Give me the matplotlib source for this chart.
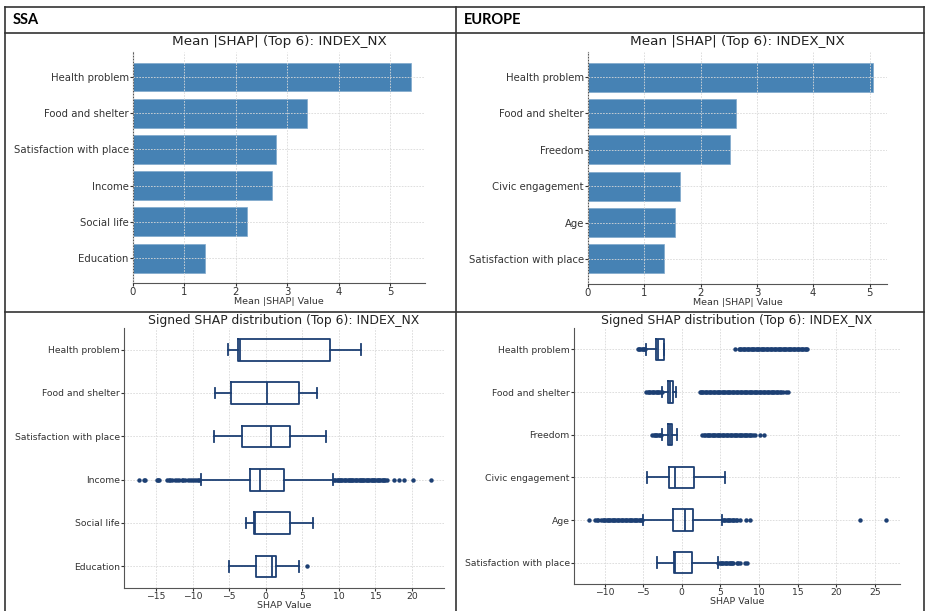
import matplotlib
matplotlib.use("Agg")
import matplotlib.pyplot as plt
from matplotlib.lines import Line2D

# ---- data ----
ssa_features = ["Health problem", "Food and shelter", "Satisfaction with place",
                "Income", "Social life", "Education"]
ssa_mean_shap = [5.41, 3.38, 2.78, 2.71, 2.22, 1.40]

eu_features = ["Health problem", "Food and shelter", "Freedom",
               "Civic engagement", "Age", "Satisfaction with place"]
eu_mean_shap = [5.06, 2.62, 2.53, 1.64, 1.55, 1.35]

# box stats: whisker low, q1, median, q3, whisker high
ssa_whislo = [-5.1, -7.0, -7.1, -8.9, -2.74, -5.07]
ssa_q1 = [-3.84, -4.7, -3.2, -2.15, -1.55, -1.37]
ssa_med = [-3.5, 0.23, 0.78, -0.78, -1.46, 0.87]
ssa_q3 = [8.8, 4.5, 3.33, 2.5, 3.38, 1.42]
ssa_whishi = [13.1, 7.0, 8.2, 9.26, 6.53, 4.57]
ssa_fliers = [
    [],
    [],
    [],
    [-17.4, -16.6, -16.5, -14.9, -14.7, -14.6, -13.5, -13.2, -13.1, -12.8, -12.4,
     -12.2, -11.9, -11.5, -11.3, -11.0, -10.6, -10.4, -10.1, -9.8, -9.5, -9.3, -9.1,
     9.35, 9.5, 9.7, 9.85, 10.0, 10.2, 10.35, 10.5, 10.7, 10.85, 11.0, 11.2, 11.35,
     11.5, 11.7, 11.85, 12.0, 12.2, 12.35, 12.5, 12.7, 12.85, 13.0, 13.2, 13.35, 13.5,
     13.7, 13.85, 14.0, 14.2, 14.35, 14.5, 14.7, 14.85, 15.0, 15.2, 15.35, 15.5, 15.7,
     15.85, 16.0, 16.2, 16.35, 16.55, 17.5, 18.3, 18.9, 20.1, 22.6],
    [],
    [5.6],
]

eu_whislo = [-4.67, -2.5, -2.55, -4.54, -5.0, -3.15]
eu_q1 = [-3.37, -1.78, -1.73, -1.69, -1.13, -1.04]
eu_med = [-3.05, -1.56, -1.5, -0.82, 0.47, -0.87]
eu_q3 = [-2.33, -1.13, -1.26, 1.6, 1.47, 1.3]
eu_whishi = [-2.33, -0.78, -0.61, 5.66, 5.27, 4.63]
eu_fliers = [
    [-5.66, -5.5, -5.35, -5.2, -5.05, -4.9, -4.8, 6.9, 7.4, 7.55, 7.7, 7.9, 8.05,
     8.2, 8.4, 8.55, 8.7, 8.9, 9.05, 9.2, 9.4, 9.55, 9.7, 9.9, 10.05, 10.2, 10.4,
     10.55, 10.7, 10.9, 11.05, 11.2, 11.4, 11.55, 11.7, 11.9, 12.05, 12.2, 12.4, 12.55,
     12.7, 12.9, 13.05, 13.2, 13.4, 13.55, 13.7, 13.9, 14.05, 14.2, 14.4, 14.55, 14.7,
     14.9, 15.05, 15.2, 15.4, 15.55, 15.7, 15.9, 16.05, 16.2],
    [-4.58, -4.4, -4.25, -4.1, -3.9, -3.75, -3.6, -3.4, -3.25, -3.1, -2.9, -2.75,
     -2.6, 2.33, 2.5, 2.65, 2.8, 3.0, 3.15, 3.3, 3.5, 3.65, 3.8, 4.0, 4.15, 4.3, 4.5,
     4.65, 4.8, 5.0, 5.15, 5.3, 5.5, 5.65, 5.8, 6.0, 6.15, 6.3, 6.5, 6.65, 6.8, 7.0,
     7.15, 7.3, 7.5, 7.65, 7.8, 8.0, 8.15, 8.3, 8.5, 8.65, 8.8, 9.0, 9.15, 9.3, 9.5,
     9.65, 9.8, 10.0, 10.15, 10.3, 10.5, 10.65, 10.8, 11.0, 11.15, 11.3, 11.5, 11.65,
     11.8, 12.0, 12.15, 12.3, 12.5, 12.7, 12.9, 13.1, 13.5, 13.8],
    [-3.8, -3.65, -3.5, -3.3, -3.15, -3.0, -2.8, -2.65, 2.68, 2.85, 3.0, 3.2, 3.35,
     3.5, 3.7, 3.85, 4.0, 4.2, 4.35, 4.5, 4.7, 4.85, 5.0, 5.2, 5.35, 5.5, 5.7, 5.85,
     6.0, 6.2, 6.35, 6.5, 6.7, 6.85, 7.0, 7.2, 7.35, 7.5, 7.7, 7.85, 8.0, 8.2, 8.35,
     8.5, 8.7, 8.85, 9.0, 9.2, 9.46, 10.1, 10.6],
    [],
    [-12.0, -11.3, -11.0, -10.8, -10.4, -10.25, -10.1, -9.9, -9.75, -9.6, -9.4, -9.25,
     -9.1, -8.9, -8.75, -8.6, -8.4, -8.25, -8.1, -7.9, -7.75, -7.6, -7.4, -7.25, -7.1,
     -6.9, -6.75, -6.6, -6.4, -6.25, -6.1, -5.9, -5.75, -5.6, -5.4, -5.25, -5.1,
     5.35, 5.5, 5.65, 5.8, 6.0, 6.15, 6.3, 6.5, 6.65, 6.8, 7.0, 7.1, 7.56, 8.38, 8.8,
     23.1, 26.4],
    [4.75, 4.9, 5.05, 5.2, 5.4, 5.55, 5.7, 5.9, 6.05, 6.2, 6.4, 6.55, 6.65, 7.1, 7.3,
     7.6, 8.2, 8.5],
]

BAR_COLOR = "#4682b4"
BOX_COLOR = "#1c3f73"
TEXT_COLOR = "#333333"
GRID_COLOR = "#d9d9d9"


def style_axes(ax, labelsize, below):
    ax.spines["top"].set_visible(False)
    ax.spines["right"].set_visible(False)
    ax.spines["left"].set_color("#555555")
    ax.spines["bottom"].set_color("#555555")
    ax.grid(True, color=GRID_COLOR, linestyle="--", linewidth=0.6, dashes=(2, 1.5))
    ax.set_axisbelow(below)
    ax.tick_params(labelsize=labelsize, colors=TEXT_COLOR, length=2, width=0.8, pad=1)
    for lab in ax.get_xticklabels() + ax.get_yticklabels():
        lab.set_color(TEXT_COLOR)


def bar_panel(ax, features, values, xmax):
    ax.barh(features, values, height=0.8, color=BAR_COLOR, edgecolor="#7fa8cc", linewidth=0.5)
    ax.invert_yaxis()
    ax.set_xlim(0, xmax)
    ax.set_title("Mean |SHAP| (Top 6): INDEX_NX", fontsize=9.7, color="#222222", pad=5)
    ax.set_xlabel("Mean |SHAP| Value", fontsize=6.8, color=TEXT_COLOR, labelpad=0)
    # grid shows faintly over the bars in the reference
    style_axes(ax, 7.3, False)


def box_panel(ax, features, wlo, q1, med, q3, whi, fliers, xlim):
    stats = []
    for i in range(len(features)):
        stats.append(dict(whislo=wlo[i], q1=q1[i], med=med[i], q3=q3[i],
                          whishi=whi[i], fliers=fliers[i], label=features[i]))
    lp = dict(color=BOX_COLOR, linewidth=1.3)
    ax.bxp(stats, positions=range(1, len(features) + 1), orientation="horizontal",
           widths=0.5, boxprops=lp, medianprops=lp, whiskerprops=lp, capprops=lp,
           flierprops=dict(marker="o", markersize=3.2, markerfacecolor=BOX_COLOR,
                           markeredgewidth=0, alpha=1.0, linestyle="none"))
    ax.set_ylim(6.5, 0.5)
    ax.set_xlim(*xlim)
    ax.set_title("Signed SHAP distribution (Top 6): INDEX_NX", fontsize=8.9,
                 color="#222222", pad=3)
    ax.set_xlabel("SHAP Value", fontsize=6.8, color=TEXT_COLOR, labelpad=0)
    style_axes(ax, 6.7, True)


fig = plt.figure(figsize=(9.25, 6.11), dpi=100)

ax_tl = fig.add_axes([133 / 925, 1 - 283 / 611, 292 / 925, 231 / 611])
ax_tr = fig.add_axes([588 / 925, 1 - 284 / 611, 299 / 925, 232 / 611])
ax_bl = fig.add_axes([124 / 925, 1 - 588 / 611, 320 / 925, 260 / 611])
ax_br = fig.add_axes([574 / 925, 1 - 584 / 611, 326 / 925, 256 / 611])

bar_panel(ax_tl, ssa_features, ssa_mean_shap, 5.68)
bar_panel(ax_tr, eu_features, eu_mean_shap, 5.31)
box_panel(ax_bl, ssa_features, ssa_whislo, ssa_q1, ssa_med, ssa_q3, ssa_whishi,
          ssa_fliers, (-19.4, 24.4))
box_panel(ax_br, eu_features, eu_whislo, eu_q1, eu_med, eu_q3, eu_whishi,
          eu_fliers, (-13.96, 28.26))

# table frame around the four panels
line_kw = dict(color="#333333", linewidth=1.2, transform=fig.transFigure)
y_top = 1 - 7 / 611
y_head = 1 - 33 / 611
y_mid = 1 - 311.5 / 611
x_left = 5 / 925
x_div = 456 / 925
x_right = 924 / 925
for y in (y_top, y_head, y_mid):
    fig.add_artist(Line2D([x_left, x_right], [y, y], **line_kw))
for x in (x_left, x_div, x_right):
    fig.add_artist(Line2D([x, x], [0, y_top], **line_kw))

fig.text(13 / 925, 1 - 20 / 611, "SSA", fontsize=10.5, fontweight="bold",
         family="Lato", va="center", ha="left", color="black")
fig.text(464 / 925, 1 - 20 / 611, "EUROPE", fontsize=10.5, fontweight="bold",
         family="Lato", va="center", ha="left", color="black")

fig.savefig("out.png", dpi=100)
